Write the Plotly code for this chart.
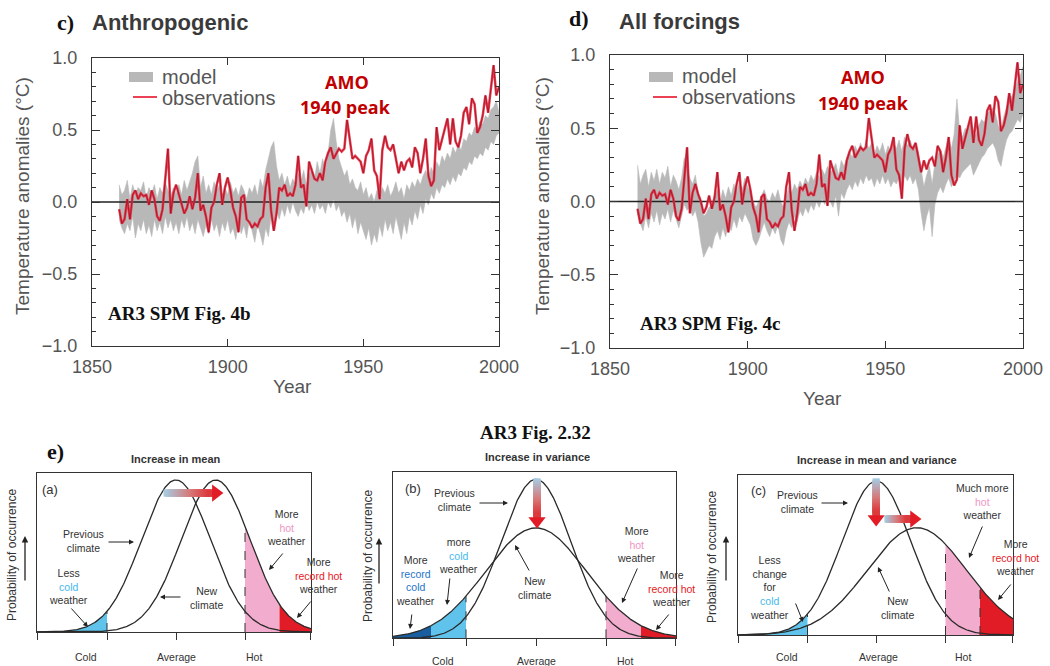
import numpy as np
import plotly.graph_objects as go

W, H = 1050, 666
def px(x): return x / W
def py(y): return 1 - y / H

# ---------------- data: top panels ----------------
years = list(range(1860, 2001))
observations = [
    -0.05, -0.15, -0.12, 0.02, -0.12, 0.05, 0.08, 0.02, 0.06, 0.04,
    0.05, -0.02, 0.08, 0.02, -0.10, -0.13, -0.05, 0.15, 0.37, -0.08,
    0.06, 0.12, 0.05, 0.00, -0.08, -0.04, 0.04, -0.05, 0.03, 0.20,
    -0.06, -0.02, -0.10, -0.21, -0.04, 0.00, 0.12, 0.20, -0.02, 0.10,
    0.17, 0.08, -0.04, -0.10, -0.21, 0.03, 0.05, -0.12, -0.14, -0.18,
    -0.15, -0.17, -0.12, -0.10, 0.10, 0.20, -0.06, -0.20, -0.08, 0.10,
    0.08, 0.12, 0.04, 0.06, 0.04, 0.12, 0.32, 0.10, 0.12, -0.03,
    0.28, 0.22, 0.16, 0.15, 0.20, 0.15, 0.28, 0.34, 0.38, 0.30,
    0.34, 0.37, 0.35, 0.37, 0.57, 0.42, 0.30, 0.32, 0.30, 0.28,
    0.20, 0.32, 0.36, 0.44, 0.22, 0.18, 0.02, 0.36, 0.46, 0.38,
    0.36, 0.40, 0.30, 0.20, 0.28, 0.22, 0.28, 0.30, 0.24, 0.38,
    0.34, 0.20, 0.30, 0.44, 0.18, 0.11, 0.15, 0.52, 0.36, 0.44,
    0.52, 0.58, 0.40, 0.58, 0.42, 0.38, 0.46, 0.62, 0.66, 0.54,
    0.72, 0.68, 0.48, 0.52, 0.60, 0.74, 0.62, 0.78, 0.95, 0.74,
    0.80]

anthro_lo = [
    -0.12, -0.18, -0.22, -0.15, -0.20, -0.10, -0.25, -0.15, -0.20, -0.12,
    -0.22, -0.16, -0.24, -0.12, -0.20, -0.14, -0.22, -0.10, -0.18, -0.12,
    -0.20, -0.14, -0.22, -0.12, -0.18, -0.10, -0.20, -0.14, -0.22, -0.12,
    -0.18, -0.24, -0.16, -0.22, -0.12, -0.20, -0.15, -0.24, -0.14, -0.20,
    -0.12, -0.22, -0.18, -0.26, -0.14, -0.22, -0.16, -0.25, -0.12, -0.20,
    -0.28, -0.16, -0.22, -0.30, -0.18, -0.24, -0.10, -0.16, -0.05, -0.12,
    -0.04, -0.10, -0.02, -0.08, 0.00, -0.06, -0.10, -0.04, -0.08, 0.00,
    -0.06, -0.02, -0.08, 0.00, -0.05, -0.02, -0.08, 0.00, -0.04, 0.02,
    -0.06, -0.02, -0.10, -0.06, -0.14, -0.08, -0.18, -0.10, -0.22, -0.14,
    -0.20, -0.26, -0.18, -0.30, -0.22, -0.28, -0.16, -0.24, -0.12, -0.20,
    -0.14, -0.22, -0.10, -0.18, -0.26, -0.14, -0.22, -0.10, -0.16, -0.06,
    -0.12, -0.02, -0.08, 0.02, -0.02, 0.06, 0.02, 0.10, 0.06, 0.12,
    0.10, 0.16, 0.12, 0.18, 0.14, 0.20, 0.18, 0.24, 0.22, 0.28,
    0.26, 0.32, 0.30, 0.34, 0.32, 0.38, 0.36, 0.42, 0.40, 0.46,
    0.48]
anthro_hi = [
    0.12, 0.05, 0.08, 0.15, 0.02, 0.12, 0.05, 0.10, 0.08, 0.14,
    0.03, 0.10, 0.06, 0.12, 0.02, 0.10, 0.06, 0.14, 0.08, 0.04,
    0.10, 0.06, 0.12, 0.05, 0.15, 0.08, 0.14, 0.20, 0.28, 0.32,
    0.10, 0.18, 0.06, 0.12, 0.05, 0.14, 0.08, 0.12, 0.04, 0.10,
    0.05, 0.14, 0.06, 0.10, 0.04, 0.12, 0.08, 0.02, 0.10, 0.06,
    0.12, 0.04, 0.16, 0.10, 0.22, 0.30, 0.38, 0.42, 0.25, 0.15,
    0.20, 0.12, 0.18, 0.10, 0.16, 0.12, 0.20, 0.14, 0.22, 0.12,
    0.18, 0.24, 0.16, 0.28, 0.20, 0.30, 0.22, 0.34, 0.50, 0.58,
    0.42, 0.30, 0.24, 0.18, 0.22, 0.12, 0.16, 0.10, 0.08, 0.14,
    0.05, 0.10, 0.02, 0.06, 0.00, 0.08, 0.04, 0.10, 0.06, 0.12,
    0.04, 0.08, 0.14, 0.06, 0.10, 0.02, 0.12, 0.08, 0.14, 0.10,
    0.16, 0.12, 0.18, 0.22, 0.16, 0.24, 0.20, 0.28, 0.24, 0.32,
    0.28, 0.34, 0.30, 0.38, 0.34, 0.40, 0.36, 0.44, 0.42, 0.48,
    0.46, 0.52, 0.50, 0.56, 0.54, 0.60, 0.58, 0.64, 0.66, 0.70,
    0.62]

allforc_lo = [
    -0.08, -0.15, -0.20, -0.10, -0.18, -0.08, -0.14, -0.06, -0.16, -0.08,
    -0.12, -0.05, -0.14, -0.06, -0.12, -0.18, -0.10, -0.02, -0.06, -0.04,
    -0.10, -0.06, -0.14, -0.28, -0.38, -0.34, -0.30, -0.32, -0.24, -0.20,
    -0.26, -0.18, -0.24, -0.16, -0.20, -0.12, -0.18, -0.10, -0.14, -0.08,
    -0.12, -0.16, -0.26, -0.30, -0.26, -0.20, -0.14, -0.20, -0.24, -0.18,
    -0.22, -0.16, -0.26, -0.30, -0.20, -0.14, -0.18, -0.10, -0.14, -0.06,
    -0.10, -0.04, -0.08, -0.02, -0.06, 0.00, -0.04, 0.02, -0.02, 0.04,
    0.00, -0.04, 0.04, -0.10, 0.06, 0.02, 0.08, 0.12, 0.08, 0.14,
    0.10, 0.16, 0.12, 0.18, 0.14, 0.16, 0.10, 0.16, 0.12, 0.18,
    0.12, 0.16, 0.10, 0.14, 0.12, 0.16, 0.12, 0.18, 0.14, 0.18,
    0.12, 0.16, 0.08, -0.08, -0.20, -0.10, -0.04, -0.24, -0.02, 0.06,
    0.10, 0.06, 0.12, 0.16, 0.10, 0.14, 0.18, 0.16, 0.20, 0.22,
    0.24, 0.26, 0.18, 0.22, 0.26, 0.30, 0.32, 0.36, 0.38, 0.40,
    0.36, 0.28, 0.24, 0.34, 0.42, 0.46, 0.48, 0.52, 0.56, 0.54,
    0.60]
allforc_hi = [
    0.25, 0.12, 0.18, 0.22, 0.10, 0.20, 0.14, 0.22, 0.12, 0.20,
    0.16, 0.24, 0.10, 0.18, 0.14, 0.08, 0.16, 0.30, 0.22, 0.16,
    0.12, 0.18, 0.06, 0.02, -0.10, -0.08, -0.04, -0.02, 0.02, 0.08,
    0.00, 0.08, 0.02, 0.10, 0.04, 0.12, 0.06, 0.14, 0.08, 0.16,
    0.10, 0.06, 0.00, -0.04, 0.00, 0.04, 0.08, 0.02, 0.00, 0.06,
    0.02, 0.08, 0.00, -0.04, 0.04, 0.10, 0.06, 0.12, 0.08, 0.14,
    0.10, 0.16, 0.12, 0.18, 0.14, 0.20, 0.16, 0.22, 0.18, 0.24,
    0.20, 0.22, 0.26, 0.18, 0.28, 0.24, 0.30, 0.34, 0.30, 0.38,
    0.34, 0.40, 0.34, 0.42, 0.36, 0.40, 0.32, 0.38, 0.34, 0.40,
    0.32, 0.38, 0.34, 0.40, 0.36, 0.42, 0.34, 0.44, 0.38, 0.42,
    0.36, 0.40, 0.34, 0.22, 0.10, 0.18, 0.24, 0.12, 0.26, 0.32,
    0.36, 0.30, 0.38, 0.44, 0.36, 0.46, 0.70, 0.48, 0.44, 0.50,
    0.48, 0.54, 0.44, 0.46, 0.52, 0.56, 0.54, 0.60, 0.62, 0.64,
    0.60, 0.52, 0.48, 0.58, 0.64, 0.70, 0.72, 0.76, 0.82, 0.86,
    0.92]

for arr in (observations, anthro_lo, anthro_hi, allforc_lo, allforc_hi):
    assert len(arr) == len(years)

year_ticks = [1850, 1900, 1950, 2000]
temp_ticks = [-1.0, -0.5, 0.0, 0.5, 1.0]
temp_tick_text = ["\u22121.0", "\u22120.5", "0.0", "0.5", "1.0"]

# ---------------- data: bottom schematic panels ----------------
scenario_titles = ["Increase in mean", "Increase in variance", "Increase in mean and variance"]
prev_mean = [0.0, 0.0, 0.0]
prev_sd = [1.0, 1.0, 1.0]
new_mean = [1.15, 0.0, 1.17]
new_sd = [1.0, 1.44, 1.435]
cold_thr, hot_thr = -2.0, 2.0
record_cold_thr, record_hot_thr = -3.0, 3.0
category_labels = ["Cold", "Average", "Hot"]

# ---------------- styles ----------------
GREY = "rgb(184,184,184)"
OBS_OUT = "rgba(232,45,65,0.9)"
OBS_IN = "rgb(160,15,35)"
LBLUE = "rgb(95,195,235)"
DBLUE = "rgb(25,95,160)"
PINK = "rgb(242,172,205)"
RED = "rgb(225,28,38)"
AXC = "#333"
SANS = "Liberation Sans, Arial, Helvetica, sans-serif"
SERIF = "Liberation Serif, Times New Roman, serif"

fig = go.Figure()

# ---------------- top panels ----------------
top_panels = [
    dict(xa="x", ya="y", lo=anthro_lo, hi=anthro_hi),
    dict(xa="x2", ya="y2", lo=allforc_lo, hi=allforc_hi),
]
for p in top_panels:
    fig.add_trace(go.Scatter(
        x=years + years[::-1], y=p["hi"] + p["lo"][::-1], fill="toself",
        fillcolor=GREY, line=dict(color=GREY, width=0.6), mode="lines",
        xaxis=p["xa"], yaxis=p["ya"], hoverinfo="skip", showlegend=False))
    fig.add_trace(go.Scatter(
        x=[year_ticks[0], year_ticks[-1]], y=[0, 0], mode="lines",
        line=dict(color="#222", width=1.6), xaxis=p["xa"], yaxis=p["ya"],
        hoverinfo="skip", showlegend=False))
    fig.add_trace(go.Scatter(
        x=years, y=observations, mode="lines", line=dict(color=OBS_OUT, width=2.5),
        xaxis=p["xa"], yaxis=p["ya"], hoverinfo="skip", showlegend=False))
    fig.add_trace(go.Scatter(
        x=years, y=observations, mode="lines", line=dict(color=OBS_IN, width=0.8),
        xaxis=p["xa"], yaxis=p["ya"], hoverinfo="skip", showlegend=False))

def top_xaxis(dom):
    return dict(domain=dom, range=[1850, 2000], tickvals=year_ticks, ticks="inside",
                ticklen=7, tickwidth=1.2, tickcolor=AXC, mirror="ticks", showline=True,
                linecolor=AXC, linewidth=1.3, showgrid=False, zeroline=False, automargin=False,
                tickfont=dict(family=SANS, size=18, color="#555"), ticklabelstandoff=4)

def top_yaxis(dom):
    return dict(domain=dom, range=[-1, 1], tickvals=temp_ticks, ticktext=temp_tick_text,
                ticks="inside", ticklen=8, tickwidth=1.2, tickcolor=AXC, mirror="ticks",
                minor=dict(dtick=0.1, ticks="inside", ticklen=4, tickcolor=AXC, tickwidth=1),
                showline=True, linecolor=AXC, linewidth=1.3, showgrid=False, zeroline=False,
                automargin=False,
                tickfont=dict(family=SANS, size=18, color="#555"), ticklabelstandoff=10)

# ---------------- bottom panels ----------------
bottom = [
    dict(xa="x3", ya="y3", left=37, right=311, top=473, base=632, center=176, unit=34.5, yunit=152),
    dict(xa="x4", ya="y4", left=393, right=676, top=472, base=638.3, center=536, unit=35.0, yunit=159),
    dict(xa="x5", ya="y5", left=738, right=1013, top=475, base=635, center=876.5, unit=34.5, yunit=154),
]
for b in bottom:
    b["xmin"] = (b["left"] - b["center"]) / b["unit"]
    b["xmax"] = (b["right"] - b["center"]) / b["unit"]
    b["ymax"] = (b["base"] - b["top"]) / b["yunit"]

def bell(x, mu, sd):
    return np.exp(-0.5 * ((x - mu) / sd) ** 2) / sd

def fill_under(b, x0, x1, mu, sd, color):
    xs = np.linspace(x0, x1, 80)
    ys = bell(xs, mu, sd)
    fig.add_trace(go.Scatter(
        x=np.concatenate([xs, xs[::-1]]), y=np.concatenate([ys, np.zeros_like(ys)]),
        fill="toself", fillcolor=color, line=dict(width=0), mode="lines",
        xaxis=b["xa"], yaxis=b["ya"], hoverinfo="skip", showlegend=False))

def dashed(b, xv, mu, sd):
    fig.add_trace(go.Scatter(
        x=[xv, xv], y=[0, bell(xv, mu, sd)], mode="lines",
        line=dict(color=AXC, width=1, dash="dash"),
        xaxis=b["xa"], yaxis=b["ya"], hoverinfo="skip", showlegend=False))

fills = [
    [("prev", None, cold_thr, LBLUE), ("new", hot_thr, record_hot_thr, PINK), ("new", record_hot_thr, None, RED)],
    [("new", None, record_cold_thr, DBLUE), ("new", record_cold_thr, cold_thr, LBLUE),
     ("new", hot_thr, record_hot_thr, PINK), ("new", record_hot_thr, None, RED)],
    [("prev", None, cold_thr, LBLUE), ("new", hot_thr, record_hot_thr, PINK), ("new", record_hot_thr, None, RED)],
]
dashes = [
    [("prev", cold_thr), ("new", hot_thr)],
    [("new", cold_thr), ("new", hot_thr)],
    [("prev", cold_thr), ("new", hot_thr), ("new", record_hot_thr)],
]

for i, b in enumerate(bottom):
    params = {"prev": (prev_mean[i], prev_sd[i]), "new": (new_mean[i], new_sd[i])}
    for which, x0, x1, col in fills[i]:
        mu, sd = params[which]
        fill_under(b, b["xmin"] if x0 is None else x0, b["xmax"] if x1 is None else x1, mu, sd, col)
    xs = np.linspace(b["xmin"], b["xmax"], 400)
    for which in ("prev", "new"):
        mu, sd = params[which]
        fig.add_trace(go.Scatter(x=xs, y=bell(xs, mu, sd), mode="lines",
                                 line=dict(color="#2a2a2a", width=1.3),
                                 xaxis=b["xa"], yaxis=b["ya"], hoverinfo="skip", showlegend=False))
    for which, xv in dashes[i]:
        mu, sd = params[which]
        dashed(b, xv, mu, sd)

# gradient arrows (decorative)
GRAD = [[0, "rgb(165,205,228)"], [0.5, "rgb(215,120,120)"], [1, "rgb(222,30,35)"]]
def grad_arrow(b, x0, y0, x1, y1, horizontal):
    head_px = 12
    if horizontal:
        hl = head_px / b["unit"]
        bx = np.linspace(x0, x1 - hl * 0.9, 40); by = np.full_like(bx, y0)
        hx, hy, sym = x1 - hl / 2, y0, "triangle-right"
    else:
        hl = head_px / b["yunit"]
        by = np.linspace(y0, y1 + hl * 0.9, 40); bx = np.full_like(by, x0)
        hx, hy, sym = x0, y1 + hl / 2, "triangle-down"
    fig.add_trace(go.Scatter(x=bx, y=by, mode="markers",
                             marker=dict(symbol="square", size=7, color=np.linspace(0, 0.85, len(bx)),
                                         colorscale=GRAD, cmin=0, cmax=1, line=dict(width=0)),
                             xaxis=b["xa"], yaxis=b["ya"], hoverinfo="skip", showlegend=False))
    fig.add_trace(go.Scatter(x=[hx], y=[hy], mode="markers",
                             marker=dict(symbol=sym, size=15, color=RED, line=dict(width=0)),
                             xaxis=b["xa"], yaxis=b["ya"], hoverinfo="skip", showlegend=False))

grad_arrow(bottom[0], -0.26, 0.914, 1.33, 0.914, True)
grad_arrow(bottom[1], 0.03, 0.985, 0.03, 0.70, False)
grad_arrow(bottom[2], -0.01, 0.995, -0.01, 0.715, False)
grad_arrow(bottom[2], 0.33, 0.753, 1.26, 0.753, True)

layout_axes = {}
layout_axes["xaxis"] = dict(top_xaxis([92 / W, 499 / W]), anchor="y")
layout_axes["yaxis"] = dict(top_yaxis([py(346), py(58)]), anchor="x")
layout_axes["xaxis2"] = dict(top_xaxis([610 / W, 1023 / W]), anchor="y2")
layout_axes["yaxis2"] = dict(top_yaxis([py(348), py(55)]), anchor="x2")
for i, b in enumerate(bottom):
    n = i + 3
    layout_axes[f"xaxis{n}"] = dict(
        domain=[b["left"] / W, b["right"] / W], range=[b["xmin"], b["xmax"]],
        tickvals=[b["xmin"] + 0.002, cold_thr, 0, hot_thr, b["xmax"] - 0.002],
        ticks="outside", ticklen=7, tickwidth=1.2, tickcolor=AXC, showticklabels=False,
        showline=True, mirror=True, linecolor=AXC, linewidth=1.2, showgrid=False,
        zeroline=False, automargin=False, anchor=f"y{n}")
    layout_axes[f"yaxis{n}"] = dict(
        domain=[py(b["base"]), py(b["top"])], range=[0, b["ymax"]], showticklabels=False,
        ticks="", showline=True, mirror=True, linecolor=AXC, linewidth=1.2,
        showgrid=False, zeroline=False, automargin=False, anchor=f"x{n}")

ann = []
def txt(x, y, t, size, color="#333", family=SANS, xanchor="center", angle=0, yanchor="middle"):
    ann.append(dict(x=px(x), y=py(y), xref="paper", yref="paper", text=t, showarrow=False,
                    font=dict(size=size, color=color, family=family), xanchor=xanchor,
                    yanchor=yanchor, textangle=angle, align="center"))
def arrow(tx, ty, hx, hy, width=1.0, head=2, size=1.0):
    ann.append(dict(x=px(hx), y=py(hy), xref="paper", yref="paper", text="", showarrow=True,
                    ax=tx - hx, ay=ty - hy, axref="pixel", ayref="pixel", arrowhead=head,
                    arrowsize=size, arrowwidth=width, arrowcolor="#222", standoff=0))

# top texts
txt(65, 22, "<b>c)</b>", 22, "#111", SERIF)
txt(90, 22, "<b>Anthropogenic</b>", 22, "#3a3a3a", SANS, xanchor="left")
txt(579, 19, "<b>d)</b>", 22, "#111", SERIF)
txt(617, 21, "<b>All forcings</b>", 22, "#3a3a3a", SANS, xanchor="left")
for (tx_, ly) in [(160, 77), (680, 76)]:
    txt(tx_, ly, "model", 20, "#555", xanchor="left")
    txt(tx_, ly + 21, "observations", 20, "#555", xanchor="left")
AMO_FONT = "Open Sans, Liberation Sans, sans-serif"
txt(347, 82, "<b>AMO</b>", 18, "rgb(192,0,0)", AMO_FONT)
txt(345, 107, "<b>1940 peak</b>", 18, "rgb(192,0,0)", AMO_FONT)
txt(863, 77, "<b>AMO</b>", 18, "rgb(192,0,0)", AMO_FONT)
txt(863, 103, "<b>1940 peak</b>", 18, "rgb(192,0,0)", AMO_FONT)
txt(106, 313, "<b>AR3 SPM Fig. 4b</b>", 19, "#111", SERIF, xanchor="left")
txt(638, 323, "<b>AR3 SPM Fig. 4c</b>", 19, "#111", SERIF, xanchor="left")
txt(22, 196, "Temperature anomalies (\u00b0C)", 19, "#555", angle=-90)
txt(542, 196, "Temperature anomalies (\u00b0C)", 19, "#555", angle=-90)
txt(292, 387, "Year", 19, "#555")
txt(822, 398, "Year", 19, "#555")

# bottom texts
txt(55, 451, "<b>e)</b>", 22, "#111", SERIF)
txt(535, 433, "<b>AR3 Fig. 2.32</b>", 19, "#111", SERIF)
title_pos = [(176, 459), (537, 457), (877, 460)]
for (x, y), t in zip(title_pos, scenario_titles):
    txt(x, y, f"<b>{t}</b>", 11, "#333")
for x, y, t in [(40, 489, "(a)"), (403, 488, "(b)"), (749, 490, "(c)")]:
    txt(x, y, t, 13, "#333", xanchor="left")
for x, y in [(12, 555), (368, 556), (712, 557)]:
    txt(x, y, "Probability of occurrence", 12, "#333", angle=-90)
for x, y0, y1 in [(25, 582, 536), (379, 585, 538), (726, 582, 536)]:
    arrow(x, y0, x, y1, width=1.3)

label_x = [[-2.6, 0.0, 2.25], [-2.65, 0.0, 2.55], [-2.6, 0.05, 2.5]]
label_y = [657, 661, 657]
for i, b in enumerate(bottom):
    for lx, lab in zip(label_x[i], category_labels):
        txt(b["center"] + lx * b["unit"], label_y[i], lab, 10.5, "#333")

def c(t, col): return f"<span style='color:{col}'>{t}</span>"
HOT_T = "rgb(240,150,195)"; REC_T = "rgb(230,25,35)"; COLD_T = "rgb(70,185,235)"; RCOLD_T = "rgb(30,115,200)"
F = 10.5
# panel a
txt(83, 541, "Previous<br>climate", F); arrow(107, 542, 134, 542)
txt(68, 586, "Less<br>" + c("cold", COLD_T) + "<br>weather", F); arrow(70, 607, 88, 627)
txt(206, 598, "New<br>climate", F); arrow(182, 597, 160, 597)
txt(286, 527, "More<br>" + c("hot", HOT_T) + "<br>weather", F); arrow(284, 552, 269, 570)
txt(318, 575, "More<br>" + c("record hot", REC_T) + "<br>weather", F); arrow(312, 600, 297, 618)
# panel b
txt(454, 500, "Previous<br>climate", F); arrow(478, 503, 508, 503)
txt(458, 555, "more<br>" + c("cold", COLD_T) + "<br>weather", F); arrow(450, 577, 447, 605)
txt(415, 580, "More<br>" + c("record<br>cold", RCOLD_T) + "<br>weather", F); arrow(412, 613, 410, 629)
txt(534, 588, "New<br>climate", F); arrow(530, 572, 515, 545)
txt(636, 544, "More<br>" + c("hot", HOT_T) + "<br>weather", F); arrow(638, 567, 622, 603)
txt(671, 588, "More<br>" + c("record hot", REC_T) + "<br>weather", F); arrow(670, 613, 656, 630)
# panel c
txt(797, 502, "Previous<br>climate", F); arrow(820, 503, 848, 503)
txt(769, 587, "Less<br>change<br>for<br>" + c("cold", COLD_T) + "<br>weather", F); arrow(795, 602, 803, 622)
txt(897, 608, "New<br>climate", F); arrow(890, 593, 878, 567)
txt(982, 501, "Much more<br>" + c("hot", HOT_T) + "<br>weather", F); arrow(983, 525, 969, 558)
txt(1015, 557, "More<br>" + c("record hot", REC_T) + "<br>weather", F); arrow(1012, 583, 998, 600)

shapes = []
for (x0, x1, y0, y1, lx0, lx1, ly) in [(129, 153, 72, 82, 133, 157, 97), (649, 673, 72, 82, 653, 677, 97)]:
    shapes.append(dict(type="rect", xref="paper", yref="paper", x0=px(x0), x1=px(x1),
                       y0=py(y1), y1=py(y0), fillcolor=GREY, line=dict(width=0)))
    shapes.append(dict(type="line", xref="paper", yref="paper", x0=px(lx0), x1=px(lx1),
                       y0=py(ly), y1=py(ly), line=dict(color=OBS_OUT, width=2)))

fig.update_layout(width=W, height=H, margin=dict(l=0, r=0, t=0, b=0, autoexpand=False),
                  paper_bgcolor="white", plot_bgcolor="rgba(0,0,0,0)",
                  showlegend=False, annotations=ann, shapes=shapes, **layout_axes)
fig.write_html("out.html", config={"displayModeBar": False},
               post_script="document.body.style.margin='0';document.body.style.overflow='hidden';")
